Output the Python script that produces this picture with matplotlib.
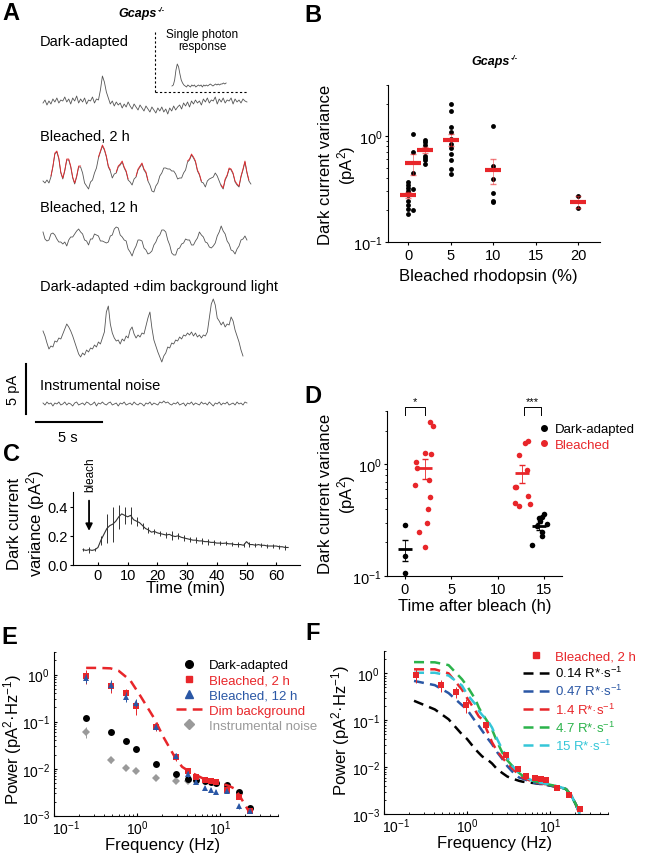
import numpy as np
import matplotlib
matplotlib.use('Agg')
import matplotlib.pyplot as plt
import matplotlib.transforms as mtransforms
from matplotlib.lines import Line2D
from matplotlib.ticker import NullFormatter

plt.rcParams['font.family'] = ['Liberation Sans', 'DejaVu Sans']
plt.rcParams['mathtext.fontset'] = 'custom'
plt.rcParams['mathtext.rm'] = 'Liberation Sans'
plt.rcParams['mathtext.it'] = 'Liberation Sans:italic'
plt.rcParams['mathtext.bf'] = 'Liberation Sans:bold'
plt.rcParams['axes.linewidth'] = 0.8
plt.rcParams['xtick.major.width'] = 0.8
plt.rcParams['ytick.major.width'] = 0.8
plt.rcParams['xtick.major.size'] = 2.5
plt.rcParams['ytick.major.size'] = 2.5
plt.rcParams['xtick.minor.size'] = 1.5
plt.rcParams['ytick.minor.size'] = 1.5
plt.rcParams['xtick.labelsize'] = 10.5
plt.rcParams['ytick.labelsize'] = 10.5

RED = '#e8262a'
BLUE = '#2a57a5'
GREY = '#9a9a9a'
GREEN = '#2bb34b'
CYAN = '#35c6d8'
TRACE = '#555555'

# ---------------- data ----------------
# panel A: example current traces (pA), sampled every 0.15 s
DT = 0.15
dark_trace = [0.1, 0.4, -0.1, 0.3, 0.0, 0.5, 0.2, 0.6, 0.1, 0.4,
              0.3, 0.7, 0.2, 0.5, 0.0, 0.6, 0.3, 0.8, 0.1, 0.5,
              0.2, 0.6, 0.0, 0.4, 0.3, 0.7, 0.1, 0.5, 0.4, 1.4,
              2.8, 2.2, 1.2, 0.6, 0.0, 0.3, -0.2, 0.2, -0.1, 0.1,
              -0.4, 0.0, -0.3, 0.2, -0.2, -0.5, 0.0, -0.3, -0.6, -0.1,
              -0.4, -0.7, -0.2, -0.5, -0.8, -0.3, -0.6, -0.9, -0.4, -0.7,
              -0.3, -0.8, -0.5, -1.0, -0.4, -0.7, -0.2, -0.6, -0.3, -0.1,
              -0.5, 0.1, -0.2, 0.2, -0.3, 0.3, 0.0, 0.4, 0.1, 0.3,
              -0.1, 0.5, 0.2, 0.6, 0.1, 0.4, 0.3, 0.7, 0.0, 0.5,
              0.2, 0.6, 0.1, 0.4, 0.3, 0.6, 0.0, 0.5, 0.2, 0.4,
              0.1, 0.5, 0.3, 0.2]
bleach2_trace = [0.3, 0.1, 0.4, 0.1, 0.7, 1.7, 3.0, 3.2, 2.5, 1.1,
                 0.5, 1.3, 2.4, 2.4, 1.7, 0.6, 0.0, 0.7, 1.7, 1.7,
                 1.1, 0.1, -0.2, -0.5, 0.2, 0.4, 1.1, 1.6, 2.6, 3.2,
                 3.8, 3.4, 2.7, 1.7, 1.3, 0.6, 1.0, 1.1, 1.7, 1.9,
                 2.2, 1.6, 1.2, 0.4, 0.2, -0.1, 0.5, 0.7, 1.4, 1.7,
                 2.0, 1.4, 1.1, 0.3, -0.1, -0.7, -0.8, -0.2, 0.1, 0.8,
                 1.1, 1.6, 1.6, 1.5, 1.5, 1.3, 1.3, 1.0, 0.5, 0.6,
                 0.6, 1.1, 1.4, 2.2, 2.4, 2.9, 2.6, 2.2, 1.3, 0.9,
                 0.2, 0.1, -0.3, 0.3, 0.5, 0.6, 0.7, 1.1, 0.8, 0.3,
                 -0.2, -0.5, 0.4, 0.8, 1.5, 1.4, 1.0, 0.2, -0.1, -0.3,
                 0.7, 1.4, 2.2, 1.1, 0.3, 0.0]
bleach2_fit_spans = [(0.5, 2.9), (4.2, 5.1), (5.5, 6.5), (7.0, 8.0), (10.9, 12.0), (13.5, 15.7)]
bleach12_trace = [1.2, 0.5, 0.3, 0.4, 1.0, 1.1, 0.9, 0.5, 0.2, 0.2,
                  0.0, 0.2, -0.2, 0.4, 0.7, 0.7, 1.0, 1.3, 1.5, 1.2,
                  1.0, 0.4, 0.3, -0.1, 0.5, 0.5, 1.0, 0.9, 0.8, 0.3,
                  0.3, 0.2, 0.1, 0.2, 0.8, 0.9, 1.5, 1.7, 1.6, 0.9,
                  0.7, 0.4, 0.3, -0.5, -0.8, -1.2, -0.6, -0.2, 0.4, 0.4,
                  0.3, -0.4, -0.6, -1.0, -0.9, -0.7, -0.1, 0.2, 0.7, 0.9,
                  1.4, 1.4, 1.2, 0.4, -0.1, -0.9, -1.1, -1.1, -0.5, -0.4,
                  0.0, 0.1, 0.5, 0.4, 0.4, -0.1, -0.1, 0.3, 0.6, 1.2,
                  0.9, 0.7, 0.2, 0.1, -0.3, -0.4, -0.2, 0.1, 0.8, 1.2,
                  1.8, 1.3, 1.0, 0.3, 0.0, -0.6, -0.7, -1.0, -0.5, -0.2,
                  0.4, 0.5, 0.8, 0.4]
dim_trace = [1.3, 0.8, 0.1, -0.5, -0.2, -0.3, 0.3, 0.2, 0.6, 0.5,
             1.0, 1.5, 2.0, 1.7, 1.3, 0.8, 0.2, -0.4, -1.0, -1.3,
             -0.9, -1.1, -0.6, -0.8, -0.4, -0.5, -0.1, -0.3, 0.2, 0.0,
             0.6, 1.2, 3.2, 3.8, 2.0, 1.1, 0.6, 0.3, 0.4, 0.0,
             0.5, 0.3, 0.8, 0.6, 1.4, 1.7, 1.0, 0.6, 0.9, 0.7,
             1.1, 1.0, 1.8, 2.6, 3.2, 1.6, 0.4, -0.2, -0.8, -1.3,
             -1.8, -1.2, -0.9, -0.3, -0.4, 0.1, 0.0, 0.4, 0.3, 0.7,
             0.5, 0.9, 0.8, 1.1, 0.9, 1.2, 0.8, 1.1, 0.7, 0.9,
             0.6, 0.9, 0.8, 1.2, 2.6, 4.0, 4.5, 3.9, 2.6, 2.3,
             1.9, 2.2, 1.7, 2.0, 1.9, 2.7, 2.3, 1.4, 0.8, 0.2,
             -0.6, -1.2]
noise_trace = [0.1, -0.1, 0.2, 0.0, 0.1, -0.2, 0.1, 0.0, 0.2, -0.1,
               0.0, 0.2, -0.1, 0.1, 0.0, -0.2, 0.1, 0.2, -0.1, 0.0,
               0.1, -0.1, 0.2, 0.1, -0.1, 0.0, 0.2, -0.2, 0.1, 0.0,
               0.2, 0.0, -0.1, 0.1, 0.2, -0.1, 0.0, 0.1, -0.2, 0.1,
               0.0, 0.2, -0.1, 0.0, 0.1, -0.1, 0.2, 0.0, -0.1, 0.1,
               0.0, -0.2, 0.1, 0.0, 0.2, -0.1, 0.1, 0.0, -0.1, 0.2,
               0.1, 0.3, 0.1, 0.2, 0.0, -0.1, 0.1, 0.0, 0.2, -0.1,
               0.0, 0.1, -0.2, 0.1, 0.0, 0.2, -0.1, 0.1, 0.0, -0.1,
               0.2, 0.0, 0.1, -0.1, 0.2, 0.0, -0.2, 0.1, 0.0, 0.2,
               -0.1, 0.1, 0.0, 0.2, -0.1, 0.0, 0.1, -0.1, 0.2, 0.0,
               0.1, -0.1, 0.2, 0.1]
# single photon response inset, sampled every 0.1 s
spr_trace = [0.0, 0.1, 0.6, 1.6, 2.2, 1.9, 1.2, 0.6, 0.3, 0.1,
             0.0, -0.1, 0.1, 0.0, -0.1, 0.1, 0.0, 0.1, -0.1, 0.0,
             0.1, 0.0, 0.1, -0.1, 0.1, 0.0, 0.1, 0.0, 0.1, 0.2,
             0.1, 0.0, 0.1, 0.2, 0.1, 0.2, 0.1, 0.2, 0.2, 0.3,
             0.2, 0.3]

# panel B: variance vs bleached fraction
b_x = [0, 0.5, 2, 5, 10, 20]
b_points = [[0.366, 0.345, 0.323, 0.305, 0.288, 0.274, 0.242, 0.224, 0.205, 0.184],
            [1.04, 0.70, 0.45, 0.316, 0.20],
            [0.917, 0.87, 0.81, 0.65, 0.62, 0.59, 0.545],
            [1.97, 1.71, 1.22, 1.08, 0.94, 0.84, 0.77, 0.68, 0.585, 0.49, 0.44],
            [1.23, 0.52, 0.49, 0.39, 0.29, 0.245, 0.237],
            [0.268, 0.208]]
b_mean = [0.278, 0.55, 0.74, 0.917, 0.48, 0.24]
b_err = [0.02, 0.12, 0.05, 0.12, 0.13, 0.03]

# panel C: variance time course after bleach
c_time = list(range(-5, 0)) + list(range(0, 65))
c_mean = [0.105, 0.10, 0.105, 0.10, 0.105,
          0.12, 0.17, 0.21, 0.25, 0.27, 0.28, 0.30, 0.33, 0.35, 0.34,
          0.33, 0.34, 0.31, 0.30, 0.29, 0.27, 0.25, 0.24, 0.225, 0.23,
          0.22, 0.215, 0.21, 0.205, 0.21, 0.20, 0.195, 0.20, 0.19, 0.185,
          0.18, 0.175, 0.17, 0.17, 0.165, 0.165, 0.16, 0.16, 0.155, 0.155,
          0.15, 0.15, 0.148, 0.15, 0.145, 0.145, 0.14, 0.14, 0.14, 0.135,
          0.16, 0.14, 0.14, 0.135, 0.14, 0.135, 0.135, 0.13, 0.13, 0.13,
          0.13, 0.125, 0.125, 0.12, 0.12]
c_err = [0.01, 0.01, 0.02, 0.01, 0.01,
         0.01, 0.03, 0.04, 0.10, 0.10, 0.12, 0.08, 0.08, 0.06, 0.06,
         0.05, 0.06, 0.04, 0.03, 0.02, 0.02, 0.02, 0.02, 0.02, 0.02,
         0.02, 0.015, 0.02, 0.02, 0.04, 0.03, 0.02, 0.02, 0.02, 0.02,
         0.02, 0.02, 0.02, 0.02, 0.02, 0.02, 0.02, 0.02, 0.015, 0.015,
         0.02, 0.015, 0.015, 0.015, 0.015, 0.015, 0.015, 0.02, 0.015, 0.015,
         0.02, 0.015, 0.015, 0.015, 0.015, 0.015, 0.015, 0.015, 0.015, 0.015,
         0.015, 0.015, 0.015, 0.015, 0.015]

# panel D: variance vs time after bleach
d_dark_t = [0, 0, 0, 13.7, 14.4, 14.5, 14.7, 15.0, 15.3, 14.8, 14.8, 14.25]
d_dark_v = [0.287, 0.15, 0.106, 0.19, 0.33, 0.31, 0.34, 0.36, 0.29, 0.25, 0.23, 0.28]
d_bl_t = [1.1, 1.25, 1.35, 1.5, 2.15, 2.2, 2.4, 2.5, 2.6, 2.67, 2.8, 2.75, 3.0,
          11.8, 12.0, 11.9, 12.3, 12.3, 12.9, 13.3, 13.1, 13.2, 13.45]
d_bl_v = [0.65, 1.05, 0.93, 0.25, 0.18, 1.27, 0.30, 0.40, 0.73, 0.51, 1.23, 2.39, 2.2,
          0.63, 0.63, 0.45, 0.42, 1.22, 1.56, 1.62, 0.89, 0.52, 0.44]
d_dark_mean_t = [0, 14.4]
d_dark_mean = [0.174, 0.28]
d_dark_lo = [0.136, 0.26]
d_dark_hi = [0.21, 0.30]
d_bl_mean_t = [2.2, 12.6]
d_bl_mean = [0.92, 0.84]
d_bl_lo = [0.74, 0.68]
d_bl_hi = [1.11, 0.98]

# panel E/F: power spectra
freq = [0.244, 0.488, 0.732, 0.977, 1.71, 2.93, 4.15, 5.13, 6.59, 7.8, 9.03, 12.2, 17.1, 22.7]
psd_dark = [0.122, 0.061, 0.0386, 0.026, 0.0128, 0.0078, 0.0062, 0.0058, 0.0055, 0.0053, 0.0051, 0.0045, 0.0033, 0.0015]
psd_b2 = [0.92, 0.56, 0.40, 0.21, 0.078, 0.0178, 0.0092, 0.0066, 0.0059, 0.0055, 0.0052, 0.0036, 0.0025, 0.0013]
psd_b2_err = [0.3, 0.15, 0.1, 0.07, 0.015, 0.003, 0.001, 0.0005, 0.0004, 0.0004, 0.0004, 0.0003, 0.0002, 0.0001]
psd_b12 = [0.85, 0.61, 0.34, 0.25, 0.078, 0.019, 0.0078, 0.0052, 0.0040, 0.0036, 0.0032, 0.0034, 0.0016, 0.0013]
psd_b12_err = [0.2, 0.15, 0.08, 0.05, 0.012, 0.003, 0.001, 0.0005, 0.0004, 0.0004, 0.0003, 0.0003, 0.0002, 0.0001]
noise_f = [0.244, 0.488, 0.732, 0.977, 1.71, 2.93, 4.15]
psd_noise = [0.061, 0.0151, 0.0103, 0.0088, 0.0063, 0.0056, 0.0055]
psd_noise_err = [0.015, 0.002, 0.001, 0.0008, 0.0005, 0.0004, 0.0004]
dim_f = [0.244, 0.35, 0.48, 0.6, 0.83, 1.1, 1.6, 2.1, 2.9, 3.5, 4.4, 6.3, 10, 13, 15, 17, 22]
dim_psd = [1.38, 1.38, 1.35, 1.2, 0.75, 0.35, 0.12, 0.046, 0.017, 0.011, 0.0085, 0.0062, 0.005, 0.0043, 0.0038, 0.0028, 0.0013]

model_f = [0.23, 0.41, 0.6, 0.87, 1.0, 1.26, 1.39, 1.52, 1.83, 2.0, 2.3, 2.66, 3.06, 3.5, 4.24, 4.65, 6.2, 8.9, 13, 15.6, 18, 20.5, 22.8]
model_014 = [0.26, 0.17, 0.105, 0.05, 0.04, 0.024, 0.02, 0.017, 0.0137, 0.012, 0.0091, 0.0075, 0.0063, 0.0057, 0.0051, 0.0049, 0.0046, 0.0042, 0.0037, 0.0034, 0.0025, 0.0016, 0.001]
model_047 = [0.69, 0.56, 0.38, 0.21, 0.17, 0.095, 0.076, 0.06, 0.038, 0.031, 0.021, 0.015, 0.0105, 0.0081, 0.006, 0.0057, 0.0047, 0.0042, 0.0037, 0.0034, 0.0025, 0.0016, 0.001]
model_14 = [1.22, 1.22, 1.0, 0.45, 0.3, 0.16, 0.12, 0.105, 0.05, 0.034, 0.022, 0.016, 0.012, 0.0095, 0.0068, 0.006, 0.0049, 0.0043, 0.0037, 0.0034, 0.0025, 0.0016, 0.001]
model_47 = [1.74, 1.72, 1.5, 0.75, 0.54, 0.28, 0.186, 0.14, 0.085, 0.064, 0.035, 0.0205, 0.014, 0.0107, 0.0075, 0.0066, 0.0051, 0.0044, 0.0038, 0.0034, 0.0025, 0.0016, 0.001]
model_15 = [1.03, 1.03, 0.9, 0.55, 0.36, 0.22, 0.158, 0.13, 0.09, 0.07, 0.04, 0.024, 0.016, 0.0107, 0.0075, 0.0066, 0.0051, 0.0044, 0.0038, 0.0034, 0.0025, 0.0016, 0.001]
log_ticks = [0.1, 1, 10]
log_tick_labels = [r'$\mathdefault{10^{-1}}$', r'$\mathdefault{10^{0}}$', r'$\mathdefault{10^{1}}$']

# ---------------- figure ----------------
W, H = 650, 854
fig = plt.figure(figsize=(W / 100, H / 100), dpi=100)


def ptxt(x, y, s, **kw):
    kw.setdefault('va', 'center')
    fig.text(x / W, 1 - y / H, s, **kw)


def pax(l, t, r, b):
    return fig.add_axes([l / W, 1 - b / H, (r - l) / W, (b - t) / H])


def gcaps(x, y, size):
    ptxt(x, y, 'Gcaps', ha='right', fontsize=size, fontweight='bold', fontstyle='italic')
    ptxt(x + 1, y - 4, '-/-', ha='left', fontsize=size * 0.6, fontweight='bold', fontstyle='italic')


def ylab(x, y, s):
    ptxt(x, y, s, ha='center', rotation=90, fontsize=12, multialignment='center', linespacing=1.15)


def xlab(x, y, s):
    ptxt(x, y, s, ha='center', fontsize=12)


# panel letters
for letter, x, y in [('A', 11, 13), ('B', 313, 15), ('C', 11, 455), ('D', 313, 397), ('E', 9, 637), ('F', 313, 634)]:
    ptxt(x, y, letter, ha='center', fontsize=17, fontweight='bold')

# ---- A ----
PX_S = 13.2   # pixels per second
PX_PA = 10.0  # pixels per pA
axA = pax(0, 0, 273, 444)
axA.axis('off')
axA.set_xlim(-43 / PX_S, 230 / PX_S)
axA.set_ylim(-444 / PX_PA, 0)


def draw_trace(tr, base_px, t0=0.0, dt=DT):
    t = t0 + np.arange(len(tr)) * dt
    v = -base_px / PX_PA + np.array(tr)
    axA.plot(t, v, color=TRACE, lw=0.6)
    return t, v


draw_trace(dark_trace, 105)
t2, v2 = draw_trace(bleach2_trace, 185)
for a, b in bleach2_fit_spans:
    m = (t2 >= a) & (t2 <= b)
    axA.plot(t2[m], v2[m] + 0.1, color=RED, lw=0.6)
draw_trace(bleach12_trace, 245)
draw_trace(dim_trace, 345)
draw_trace(noise_trace, 405)
draw_trace(spr_trace, 87, t0=(172 - 43) / PX_S, dt=0.1)

# inset box and scale bars
xb = (155 - 43) / PX_S
axA.plot([xb, xb], [-3.3, -9.3], color='black', lw=0.8, ls=(0, (2, 2)))
axA.plot([xb, (247 - 43) / PX_S], [-9.3, -9.3], color='black', lw=0.8, ls=(0, (2, 2)))
axA.plot([(26 - 43) / PX_S] * 2, [-36.5, -41.5], color='black', lw=1.5)
axA.plot([(36 - 43) / PX_S, (36 - 43) / PX_S + 5], [-42.3, -42.3], color='black', lw=1.5)

gcaps(157, 14, 9)
ptxt(40, 42, 'Dark-adapted', fontsize=10.5)
ptxt(202, 41, 'Single photon\nresponse', ha='center', fontsize=8.5, linespacing=1.1)
ptxt(40, 137, 'Bleached, 2 h', fontsize=10.5)
ptxt(40, 208, 'Bleached, 12 h', fontsize=10.5)
ptxt(40, 287, 'Dark-adapted +dim background light', fontsize=10.5)
ptxt(40, 386, 'Instrumental noise', fontsize=10.5)
ptxt(13, 390, '5 pA', ha='center', rotation=90, fontsize=10.5)
ptxt(68, 438, '5 s', ha='center', fontsize=10.5)

# ---- B ----
axB = pax(388, 86, 600, 243)
for x, vals in zip(b_x, b_points):
    axB.plot([x] * len(vals), vals, 'o', color='black', ms=3.5, mew=0, zorder=3)
axB.errorbar(b_x, b_mean, yerr=b_err, fmt='none', ecolor=RED, elinewidth=0.6, capsize=2, alpha=0.6, zorder=4)
axB.plot(b_x, b_mean, ls='none', marker='_', ms=12, mew=3, color=RED, zorder=5)
axB.set_yscale('log')
axB.set_ylim(0.1, 3)
axB.set_xlim(-2.4, 22.6)
axB.set_xticks([0, 5, 10, 15, 20])
axB.yaxis.set_minor_formatter(NullFormatter())
xlab(488, 276, 'Bleached rhodopsin (%)')
ylab(338, 165, 'Dark current variance\n(pA$^2$)')
gcaps(510, 62, 9)

# ---- C ----
axC = pax(73, 493, 300, 566)
axC.errorbar(c_time, c_mean, yerr=c_err, color='#333333', lw=0.8, elinewidth=0.7, errorevery=2)
axC.set_xlim(-8.4, 68)
axC.set_ylim(0, 0.5)
axC.set_yticks([0.0, 0.2, 0.4])
axC.set_yticklabels(['0.0', '0.2', '0.4'])
axC.set_xticks([0, 10, 20, 30, 40, 50, 60])
xlab(186, 589, 'Time (min)')
ylab(27, 524, 'Dark current\nvariance (pA$^2$)')
axC.annotate('', xy=(-3, 0.215), xytext=(-3, 0.46),
             arrowprops=dict(arrowstyle='-|>', color='black', lw=1.3, mutation_scale=10))
axC.text(-2.6, 0.51, 'bleach', rotation=90, fontsize=8.5, ha='center', va='bottom', clip_on=False)

# ---- D ----
axD = pax(387, 412, 562, 577)
axD.plot(d_dark_t, d_dark_v, 'o', color='black', ms=4, mew=0, zorder=3)
axD.plot(d_bl_t, d_bl_v, 'o', color=RED, ms=4, mew=0, zorder=3)
for tt, m, lo, hi, col in [(d_dark_mean_t, d_dark_mean, d_dark_lo, d_dark_hi, 'black'),
                           (d_bl_mean_t, d_bl_mean, d_bl_lo, d_bl_hi, RED)]:
    m = np.array(m)
    axD.errorbar(tt, m, yerr=[m - np.array(lo), np.array(hi) - m], fmt='none', ecolor=col,
                 elinewidth=0.6, capsize=2, zorder=4)
    axD.plot(tt, m, ls='none', marker='_', ms=10, mew=2, color=col, zorder=5)
axD.set_yscale('log')
axD.set_ylim(0.1, 3)
axD.set_xlim(-1.9, 16.9)
axD.set_xticks([0, 5, 10, 15])
axD.yaxis.set_minor_formatter(NullFormatter())
xlab(475, 607, 'Time after bleach (h)')
ylab(338, 494, 'Dark current variance\n(pA$^2$)')
for x0, x1, star in [(0, 2.2, '*'), (12.8, 14.6, '***')]:
    axD.plot([x0, x0, x1, x1], [2.75, 3.25, 3.25, 2.75], color='black', lw=0.7, clip_on=False)
    axD.text((x0 + x1) / 2, 3.3, star, ha='center', va='bottom', fontsize=8, clip_on=False)
hD = [Line2D([], [], ls='none', marker='o', ms=4, color='black'),
      Line2D([], [], ls='none', marker='o', ms=4, color=RED)]
axD.legend(hD, ['Dark-adapted', 'Bleached'], loc='upper left', bbox_to_anchor=(540 / W, 1 - 424 / H),
           bbox_transform=fig.transFigure, frameon=False, fontsize=9.5, handlelength=0.6,
           handletextpad=0.5, labelspacing=0.25, borderpad=0, borderaxespad=0,
           labelcolor=['black', RED])

# ---- E ----
axE = pax(54, 653, 278, 817)
axE.errorbar(noise_f, psd_noise, yerr=psd_noise_err, fmt='D', color=GREY, ms=4.5, mew=0, elinewidth=0.7, zorder=2)
axE.plot(freq, psd_dark, 'o', color='black', ms=5, mew=0, zorder=3)
axE.plot(dim_f, dim_psd, ls=(0, (4, 2.5)), color=RED, lw=1.8, zorder=3)
axE.errorbar(freq, psd_b2, yerr=psd_b2_err, fmt='s', color=RED, ms=4.5, mew=0, elinewidth=0.7, capsize=1.5, zorder=4)
axE.errorbar(freq, psd_b12, yerr=psd_b12_err, fmt='^', color=BLUE, ms=5, mew=0, elinewidth=0.7, capsize=1.5, zorder=5)
hE = [Line2D([], [], ls='none', marker='o', ms=5.5, color='black'),
      Line2D([], [], ls='none', marker='s', ms=5, color=RED),
      Line2D([], [], ls='none', marker='^', ms=5.5, color=BLUE),
      Line2D([], [], ls=(0, (4, 2.5)), lw=1.8, color=RED),
      Line2D([], [], ls='none', marker='D', ms=5, color=GREY)]
axE.legend(hE, ['Dark-adapted', 'Bleached, 2 h', 'Bleached, 12 h', 'Dim background', 'Instrumental noise'],
           loc='upper left', bbox_to_anchor=(176 / W, 1 - 660 / H), bbox_transform=fig.transFigure,
           frameon=False, fontsize=9.5, handlelength=2.0, handletextpad=0.5, labelspacing=0.22,
           borderpad=0, borderaxespad=0,
           labelcolor=['black', RED, BLUE, RED, GREY])
xlab(163, 845.5, 'Frequency (Hz)')
ylab(13, 740, 'Power (pA$^2$·Hz$^{-1}$)')

# ---- F ----
axF = pax(384, 652, 608, 815)
for vals, col in [(model_014, 'black'), (model_047, BLUE), (model_14, RED), (model_47, GREEN), (model_15, CYAN)]:
    axF.plot(model_f, vals, ls=(0, (4, 2.5)), color=col, lw=1.8, zorder=3)
axF.errorbar(freq, psd_b2, yerr=psd_b2_err, fmt='s', color=RED, ms=4.5, mew=0, elinewidth=0.7, capsize=1.5, zorder=4)
hF = [Line2D([], [], ls='none', marker='s', ms=5, color=RED)] + \
     [Line2D([], [], ls=(0, (4, 2.5)), lw=1.8, color=c) for c in ['black', BLUE, RED, GREEN, CYAN]]
labF = ['Bleached, 2 h'] + ['%s R*·s$^{-1}$' % r for r in ['0.14', '0.47', '1.4', '4.7', '15']]
axF.legend(hF, labF, loc='upper left', bbox_to_anchor=(523 / W, 1 - 651 / H), bbox_transform=fig.transFigure,
           frameon=False, fontsize=9.5, handlelength=2.0, handletextpad=0.4, labelspacing=0.22,
           borderpad=0, borderaxespad=0,
           labelcolor=[RED, 'black', BLUE, RED, GREEN, CYAN])
xlab(495, 844, 'Frequency (Hz)')
ylab(341, 731, 'Power (pA$^2$·Hz$^{-1}$)')

for ax in (axE, axF):
    ax.set_xscale('log')
    ax.set_yscale('log')
    ax.set_xlim(0.1, 50)
    ax.set_ylim(1e-3, 3)
    ax.set_xticks(log_ticks)
    ax.set_xticklabels(log_tick_labels)
    ax.xaxis.set_minor_formatter(NullFormatter())
    ax.yaxis.set_minor_formatter(NullFormatter())

for ax in (axB, axC, axD, axE, axF):
    ax.spines['top'].set_visible(False)
    ax.spines['right'].set_visible(False)
    ax.tick_params(which='both', direction='out', pad=1.5)
for ax in (axC, axE, axF):
    ax.tick_params(axis='x', which='both', direction='in', pad=2)
for ax in (axE, axF):
    ax.tick_params(axis='y', which='both', direction='in', pad=3)
    ax.tick_params(which='both', labelsize=10)
    # keep the leftmost frequency label clear of the lowest power label
    first = ax.get_xticklabels()[0]
    first.set_horizontalalignment('left')
    first.set_transform(first.get_transform() + mtransforms.ScaledTranslation(-2 / 100, 0, fig.dpi_scale_trans))

fig.savefig('out.png', dpi=100)
